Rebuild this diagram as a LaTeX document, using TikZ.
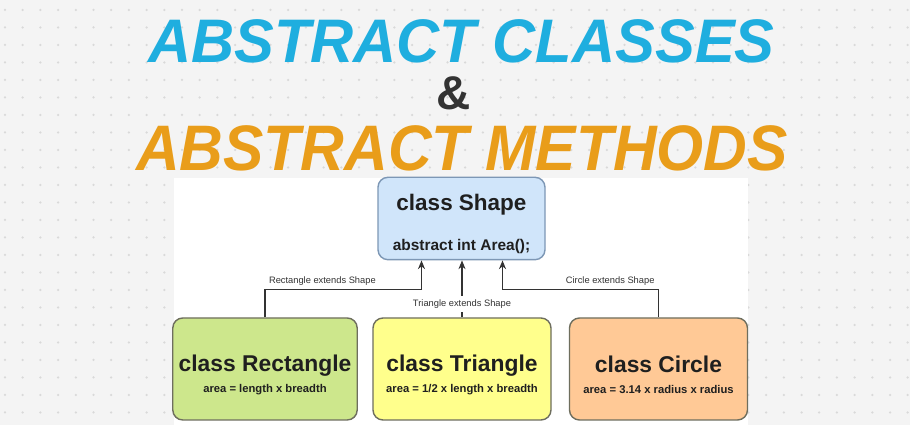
\documentclass[tikz,border=0pt]{standalone}
\usepackage{fontspec}
\setmainfont{Liberation Sans}
\usetikzlibrary{arrows.meta, positioning, calc}
\definecolor{titleblue}{HTML}{1FAEDF}
\definecolor{titleorange}{HTML}{E99D1A}
\definecolor{ampgray}{HTML}{333333}
\definecolor{pagebg}{HTML}{F4F4F4}
\definecolor{shapeblue}{HTML}{D0E5FA}
\definecolor{shapeline}{HTML}{7D97B5}
\definecolor{rectgreen}{HTML}{CDE78C}
\definecolor{triyellow}{HTML}{FFFF8C}
\definecolor{circorange}{HTML}{FFC996}
\definecolor{boxline}{HTML}{6E6E5E}

\begin{document}
\begin{tikzpicture}[
    cls/.style={rectangle, rounded corners=0.2cm, draw=boxline, line width=0.8pt, minimum width=3.56cm, minimum height=2.04cm, align=center, text=black!88},
    headline/.style={anchor=base, inner sep=0pt, font=\bfseries\itshape},
    arrow/.style={-{Stealth[length=5pt, width=4pt]}, line width=0.6pt, draw=black!80},
    ext/.style={font=\fontsize{5.3}{6}\selectfont, text=black!80, inner sep=2pt}]
    \useasboundingbox (0,0) rectangle (18.2,8.5);
    % Dotted page and white panel
    \fill[pagebg] (0,0) rectangle (18.2,8.5);
    \foreach \i in {0,...,51}
      \foreach \j in {0,...,23}
        \fill[black!15] (0.1+0.354*\i, 8.3-0.35*\j) circle (0.025);
    \fill[white] (3.48,0) rectangle (14.96,4.94);

    % Headings
    \node[headline, text=titleblue, xscale=0.97] (title1) at (9.23,7.24) {\fontsize{35}{40}\selectfont ABSTRACT CLASSES};
    \node[anchor=base, inner sep=0pt, text=ampgray] (amp) at (9.07,6.3) {\fontsize{27}{30}\selectfont\bfseries \&};
    \node[headline, text=titleorange, xscale=0.94] (title2) at (9.24,5.08) {\fontsize{36.6}{40}\selectfont ABSTRACT METHODS};

    % Nodes
    \node[cls, fill=shapeblue, draw=shapeline, minimum width=3.34cm, minimum height=1.58cm] (shape) at (9.23,4.13)
      {\rule{0pt}{15.6pt}\fontsize{12.8}{14}\selectfont\bfseries class Shape\\[10.8pt]\fontsize{8.8}{10}\selectfont\bfseries abstract int Area();};
    \node[cls, fill=rectgreen] (rect) at (5.3,1.12)
      {\rule{0pt}{16.3pt}\fontsize{13}{14}\selectfont\bfseries class Rectangle\\[-0.1pt]\fontsize{6.4}{8}\selectfont\bfseries area = length x breadth};
    \node[cls, fill=triyellow] (tri) at (9.24,1.12)
      {\rule{0pt}{16.3pt}\fontsize{13}{14}\selectfont\bfseries class Triangle\\[-0.1pt]\fontsize{6.4}{8}\selectfont\bfseries area = 1/2 x length x breadth};
    \node[cls, fill=circorange] (circ) at (13.17,1.12)
      {\rule{0pt}{16.3pt}\fontsize{13}{14}\selectfont\bfseries class Circle\\[-0.1pt]\fontsize{6.4}{8}\selectfont\bfseries area = 3.14 x radius x radius};

    % Arrows
    \draw[arrow] (rect.north) -- ++(0,0.56) node[ext, above right] {Rectangle extends Shape} -| ([xshift=-0.8cm]shape.south);
    \draw[arrow] (tri.north) -- node[ext, fill=white, pos=0.23] {Triangle extends Shape} (tri.north |- shape.south);
    \draw[arrow] (circ.north) -- ++(0,0.56) node[ext, above left] {Circle extends Shape} -| ([xshift=0.82cm]shape.south);

\end{tikzpicture}
\end{document}
